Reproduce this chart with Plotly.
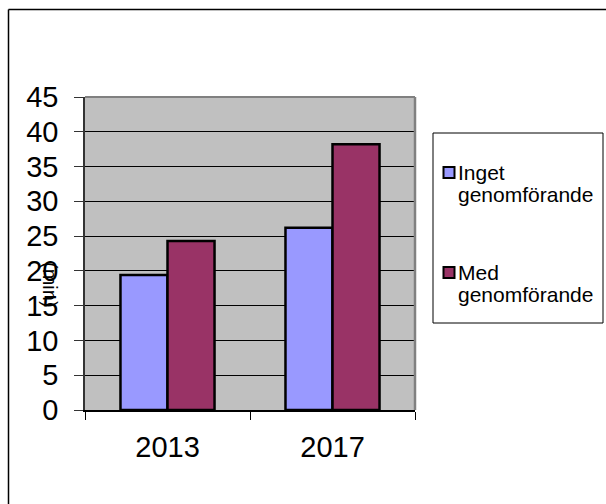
import plotly.graph_objects as go

# Values (minutes) per year and scenario
years = ["2013", "2017"]
inget = [19.4, 26.2]
med = [24.3, 38.2]
series_names = ["Inget genomförande", "Med genomförande"]
series_colors = ["#9999FF", "#993366"]
y_ticks = [0, 5, 10, 15, 20, 25, 30, 35, 40, 45]

FONT = "Liberation Sans, Arial, sans-serif"

fig = go.Figure()
for name, vals, color in zip(series_names, [inget, med], series_colors):
    fig.add_trace(go.Bar(
        x=years, y=vals, name=name,
        marker=dict(color=color, line=dict(color="black", width=2.5)),
    ))

W, H = 606, 504
L, R, T, B = 85, 415, 97, 410
pw, ph = R - L, B - T


def px_x(x):
    return (x - L) / pw


def px_y(y):
    return (B - y) / ph


fig.update_layout(
    width=W, height=H,
    margin=dict(l=L, r=W - R, t=T, b=H - B, pad=0, autoexpand=False),
    paper_bgcolor="white",
    plot_bgcolor="#C0C0C0",
    barmode="group",
    bargap=0.43,
    bargroupgap=0,
    font=dict(family=FONT, color="black"),
    showlegend=False,
    xaxis=dict(
        type="category",
        tickson="boundaries",
        ticks="outside", ticklen=8, tickcolor="black", tickwidth=1,
        showline=True, linecolor="black", linewidth=1.5,
        tickfont=dict(size=29, family=FONT),
        ticklabelstandoff=10,
        showgrid=False,
    ),
    yaxis=dict(
        range=[0, 45],
        tickvals=y_ticks,
        ticks="outside", ticklen=9, tickcolor="#333333", tickwidth=1,
        showline=True, linecolor="#333333", linewidth=1.5,
        showgrid=True, gridcolor="black", gridwidth=1,
        zeroline=False,
        tickfont=dict(size=29, family=FONT),
        ticklabelstandoff=10,
    ),
)

# Gray frame on the top and right of the plotting area
fig.add_shape(type="line", xref="paper", yref="paper", x0=0, x1=1, y0=1, y1=1,
              line=dict(color="#808080", width=2))
fig.add_shape(type="line", xref="paper", yref="paper", x0=1, x1=1, y0=0, y1=1,
              line=dict(color="#808080", width=2.5))

# Outer chart border: only its top and left edges fall inside the page
fig.add_shape(type="line", xref="paper", yref="paper",
              x0=px_x(8.5), y0=px_y(9.5), x1=px_x(606), y1=px_y(9.5),
              line=dict(color="black", width=1.5))
fig.add_shape(type="line", xref="paper", yref="paper",
              x0=px_x(8.5), y0=px_y(9.5), x1=px_x(8.5), y1=px_y(504),
              line=dict(color="black", width=1.5))

# Legend box with a swatch and two text lines per series
fig.add_shape(type="rect", xref="paper", yref="paper",
              x0=px_x(433), y0=px_y(323), x1=px_x(603), y1=px_y(133),
              line=dict(color="black", width=1), fillcolor="white")
entry_top = [167, 267]
for name, color, top in zip(series_names, series_colors, entry_top):
    fig.add_shape(type="rect", xref="paper", yref="paper",
                  x0=px_x(443.5), y0=px_y(top + 11), x1=px_x(454.5), y1=px_y(top),
                  line=dict(color="black", width=2), fillcolor=color)
    for i, line in enumerate(name.split(" ")):
        fig.add_annotation(
            text=line, showarrow=False, xref="paper", yref="paper",
            x=px_x(456), y=px_y(top + 5 + i * 22.7),
            xanchor="left", yanchor="middle",
            font=dict(size=21, family=FONT, color="black"),
        )

# Axis unit label
fig.add_annotation(
    text="(min)", textangle=90, showarrow=False,
    xref="paper", yref="paper",
    x=px_x(50), y=px_y(285),
    xanchor="center", yanchor="middle",
    font=dict(size=20, family=FONT, color="black"),
)

fig.write_html("out.html")
